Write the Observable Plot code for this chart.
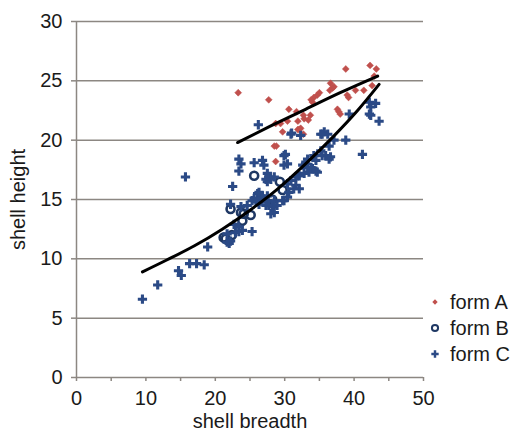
<!DOCTYPE html>
<html>
<head>
<meta charset="utf-8">
<script src="https://cdn.jsdelivr.net/npm/d3@7"></script>
<script src="https://cdn.jsdelivr.net/npm/@observablehq/plot@0.6"></script>
<style>
  html, body { margin: 0; padding: 0; background: #fff; }
  #wrap { position: relative; width: 519px; height: 430px; font-family: "Liberation Sans", Arial, sans-serif; }
  #legend { position: absolute; left: 428px; top: 289px; font-size: 20px; color: #1a1a1a; }
  #legend .item { display: flex; align-items: center; height: 26px; }
  #legend svg { width: 14px; height: 14px; margin-right: 8px; }
</style>
</head>
<body>
<div id="wrap">
  <div id="chart"></div>
  <div id="legend"></div>
</div>
<script>
// ---- data ----
const formA_breadth = [23.3, 27.7, 38.8, 42.3, 43.2, 42.9, 36.6, 36.9, 36.5, 34.7, 34.2, 33.8, 34.0, 40.2, 41.4, 39.0, 39.2, 30.6, 31.7, 32.7, 33.7, 31.9, 33.4, 30.4, 28.7, 29.7, 32.3, 31.9, 32.7, 37.6, 38.0, 28.5, 28.8, 28.7, 42.6, 37.1, 37.8, 32.8, 29.4, 32.1, 35.0];
const formA_height  = [24.0, 23.4, 26.0, 26.3, 26.0, 25.4, 24.8, 24.4, 24.2, 23.8, 23.6, 23.4, 23.2, 24.2, 24.2, 23.8, 23.6, 22.6, 22.4, 22.1, 22.1, 21.6, 21.7, 21.6, 21.4, 20.7, 21.0, 20.9, 20.5, 22.6, 22.2, 19.5, 19.5, 18.2, 24.6, 24.5, 22.4, 21.8, 21.4, 20.9, 24.0];

const formB_breadth = [25.6, 29.3, 29.7, 28.2, 22.2, 23.7, 24.1, 25.1, 21.2, 21.5, 23.9, 22.4];
const formB_height  = [17.0, 16.5, 15.8, 15.0, 14.2, 13.9, 13.8, 13.7, 11.8, 11.7, 13.2, 12.0];

const formC_breadth = [15.7, 9.5, 11.7, 14.7, 15.1, 16.3, 17.3, 18.4, 18.9, 22.5, 25.3, 23.4, 21.7, 22.0, 26.1, 26.5, 27.5, 28.0, 28.5, 30.9, 32.3, 35.2, 29.9, 30.1, 29.9, 30.4, 25.6, 26.8, 27.0, 27.5, 27.7, 28.0, 27.3, 27.5, 23.7, 32.6, 33.3, 34.0, 34.7, 33.5, 32.8, 32.1, 31.6, 30.9, 30.4, 31.6, 32.1, 31.3, 30.6, 29.9, 28.5, 27.5, 26.8, 26.3, 25.6, 26.3, 27.3, 24.6, 23.7, 35.9, 42.2, 43.1, 42.4, 42.2, 42.4, 43.6, 39.3, 35.7, 36.2, 35.4, 37.1, 38.8, 36.4, 35.2, 35.4, 36.6, 34.2, 41.2, 26.2, 31.0, 23.4, 23.4, 36.4, 33.3, 34.5, 33.0, 33.8, 34.5, 28.5, 25.3, 26.1, 27.3, 27.7, 28.2, 28.9, 29.7, 30.4, 22.7, 23.4, 23.9, 22.9, 21.7, 22.2, 22.2, 31.8, 26.8];
const formC_height  = [16.9, 6.6, 7.8, 9.0, 8.6, 9.6, 9.6, 9.5, 11.0, 16.1, 12.3, 12.3, 11.4, 11.3, 15.5, 15.3, 15.3, 13.8, 13.9, 20.5, 20.4, 20.5, 18.7, 18.8, 17.9, 18.0, 18.1, 18.3, 17.9, 17.2, 16.9, 16.7, 16.7, 16.5, 18.0, 17.9, 17.7, 17.6, 17.3, 17.3, 17.2, 17.0, 16.9, 16.6, 16.3, 16.2, 15.9, 15.9, 15.6, 14.9, 14.9, 14.9, 15.3, 15.6, 15.1, 14.6, 14.5, 14.5, 14.4, 18.7, 23.2, 23.1, 22.8, 22.2, 22.1, 21.6, 22.2, 20.7, 20.5, 20.5, 20.0, 20.0, 19.5, 19.1, 18.7, 18.6, 18.7, 18.8, 21.3, 20.6, 18.4, 17.4, 18.4, 18.4, 18.3, 18.0, 17.7, 17.4, 16.9, 14.9, 14.8, 14.8, 14.5, 14.4, 14.5, 14.9, 15.2, 12.9, 12.7, 12.4, 12.2, 12.1, 11.5, 14.6, 17.0, 15.1];

// trend lines
const trendA_breadth  = [23.2, 28.0, 33.0, 38.0, 43.4];
const trendA_height   = [19.8, 21.2, 22.6, 24.0, 25.4];
const trendBC_breadth = [9.5, 13, 17, 21, 25, 29, 33, 37, 40.5, 43.6];
const trendBC_height  = [8.9, 9.9, 11.1, 12.5, 14.1, 15.9, 18.0, 20.3, 22.5, 24.7];

const xTicksMajor = [0, 10, 20, 30, 40, 50];
const xTicksAll   = [0, 5, 10, 15, 20, 25, 30, 35, 40, 45, 50];
const yTicks      = [0, 5, 10, 15, 20, 25, 30];
const gridTicks   = [5, 10, 15, 20, 25, 30];

const seriesNames = ["form A", "form B", "form C"];
const colA = "#c0504d", colB = "#1f3864", colC = "#2b4a86";
const gray = "#8c8782";
const FS = 20;

const zip = (xs, ys) => xs.map((x, i) => ({x, y: ys[i]}));
const A = zip(formA_breadth, formA_height);
const B = zip(formB_breadth, formB_height);
const C = zip(formC_breadth, formC_height);
const TA = zip(trendA_breadth, trendA_height);
const TBC = zip(trendBC_breadth, trendBC_height);

const chart = Plot.plot({
  width: 519,
  height: 430,
  marginLeft: 76,
  marginRight: 96,
  marginTop: 21,
  marginBottom: 53,
  style: {fontFamily: '"Liberation Sans", Arial, sans-serif', fontSize: FS + "px", color: "#1a1a1a", background: "white"},
  x: {domain: [0, 50]},
  y: {domain: [0, 30]},
  marks: [
    Plot.gridY(gridTicks, {stroke: gray, strokeOpacity: 1, strokeWidth: 1.5}),
    Plot.ruleY([0], {stroke: gray, strokeWidth: 1.5}),
    Plot.ruleX([0], {stroke: gray, strokeWidth: 1.5}),
    Plot.axisX(xTicksAll, {tickSize: 4, tickFormat: () => "", stroke: gray, strokeWidth: 1.5, label: null}),
    Plot.axisX(xTicksMajor, {tickSize: 0, tickPadding: 13, fontSize: FS, fill: "#1a1a1a", label: "shell breadth", labelAnchor: "center", labelOffset: 50, labelArrow: "none"}),
    Plot.axisY(yTicks, {tickSize: 5, tickPadding: 9, fontSize: FS, stroke: gray, strokeWidth: 1.5, fill: "#1a1a1a", label: "shell height", labelAnchor: "center", labelOffset: 66, labelArrow: "none"}),
    Plot.dot(A, {x: "x", y: "y", symbol: "diamond2", r: 3.1, fill: colA, stroke: colA, strokeWidth: 0.5}),
    Plot.dot(B, {x: "x", y: "y", symbol: "circle", r: 4, fill: "none", stroke: colB, strokeWidth: 2.6}),
    Plot.dot(C, {x: "x", y: "y", symbol: "cross", r: 3.9, fill: colC, stroke: "none"}),
    Plot.line(TA, {x: "x", y: "y", curve: "monotone-x", stroke: "black", strokeWidth: 3}),
    Plot.line(TBC, {x: "x", y: "y", curve: "monotone-x", stroke: "black", strokeWidth: 3})
  ]
});
document.getElementById("chart").appendChild(chart);

// legend
const legend = d3.select("#legend");
const symbols = [d3.symbolDiamond2, d3.symbolCircle, d3.symbolCross];
const sizes = [18, 30, 30];
seriesNames.forEach((name, i) => {
  const item = legend.append("div").attr("class", "item");
  const svg = item.append("svg").attr("viewBox", "-7 -7 14 14");
  const p = svg.append("path").attr("d", d3.symbol(symbols[i], sizes[i])());
  if (i === 0) p.attr("fill", colA);
  else if (i === 1) p.attr("fill", "none").attr("stroke", colB).attr("stroke-width", 2);
  else p.attr("fill", colC);
  item.append("span").text(name);
});
</script>
</body>
</html>
